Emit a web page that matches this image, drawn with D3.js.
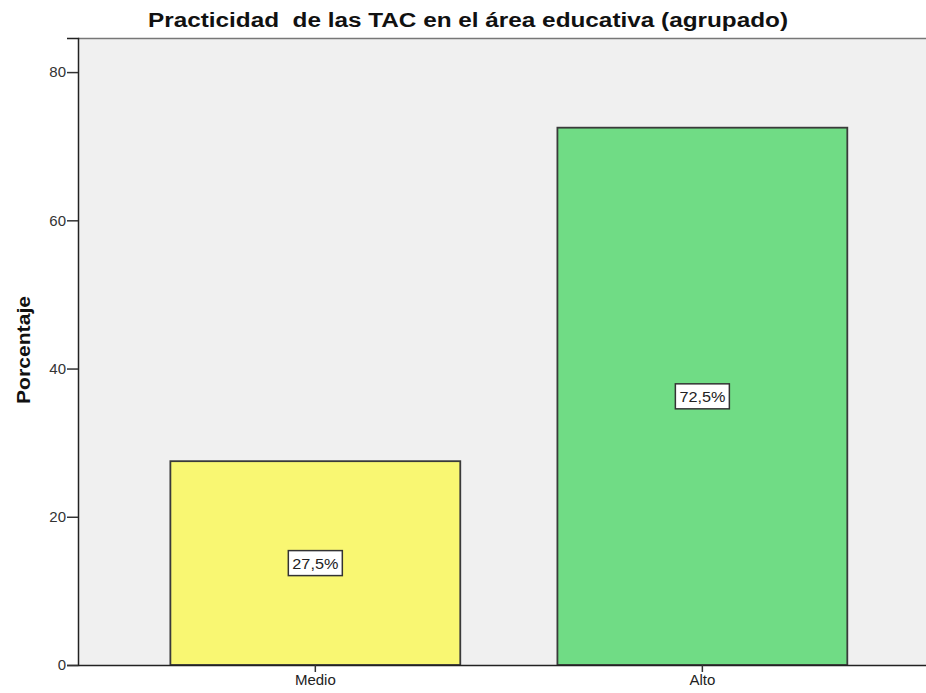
<!DOCTYPE html>
<html>
<head>
<meta charset="utf-8">
<script src="https://cdn.jsdelivr.net/npm/d3@7/dist/d3.min.js"></script>
<style>
  body { margin: 0; background: #fff; }
  text { font-family: "Liberation Sans", Arial, sans-serif; }
</style>
</head>
<body>
<div id="chart"></div>
<script>
var categories = ["Medio", "Alto"];
var values = [27.5, 72.5];
var colors = ["#f9f772", "#70dc85"];
var yTicks = [0, 20, 40, 60, 80];

var width = 926;
var height = 693;
var margin = {top: 38, right: 0, bottom: 28, left: 78};

var svg = d3.select("#chart")
    .append("svg")
    .attr("width", width)
    .attr("height", height);

var y = d3.scaleLinear()
    .domain([0, 84.6])
    .range([height - margin.bottom, margin.top]);

var x = d3.scaleBand()
    .domain(categories)
    .range([margin.left, width - margin.right])
    .paddingInner(0.251)
    .paddingOuter(0.221)
    .align(0.54);

// plot background
svg.append("rect")
    .attr("x", margin.left)
    .attr("y", margin.top)
    .attr("width", width - margin.left - margin.right)
    .attr("height", height - margin.top - margin.bottom)
    .attr("fill", "#f0f0f0");

svg.append("line")
    .attr("x1", margin.left).attr("x2", width)
    .attr("y1", margin.top + 0.5).attr("y2", margin.top + 0.5)
    .attr("stroke", "#777").attr("stroke-width", 1.5);

// bars
svg.append("g")
    .selectAll("rect")
    .data(values)
    .enter().append("rect")
    .attr("x", function (d, i) { return x(categories[i]); })
    .attr("y", function (d) { return y(d); })
    .attr("width", x.bandwidth())
    .attr("height", function (d) { return y(0) - y(d); })
    .attr("fill", function (d, i) { return colors[i]; })
    .attr("stroke", "#3a3a3a")
    .attr("stroke-width", 1.8);

// value labels
var labels = svg.append("g")
    .selectAll("g")
    .data(values)
    .enter().append("g")
    .attr("transform", function (d, i) {
        return "translate(" + (x(categories[i]) + x.bandwidth() / 2) + "," + y(d / 2) + ")";
    });

labels.append("rect")
    .attr("x", -27).attr("y", -12.5)
    .attr("width", 54).attr("height", 25)
    .attr("fill", "#fff")
    .attr("stroke", "#333")
    .attr("stroke-width", 1.5);

labels.append("text")
    .attr("text-anchor", "middle")
    .attr("dy", "0.36em")
    .style("font-size", "15px")
    .attr("textLength", 46)
    .attr("lengthAdjust", "spacingAndGlyphs")
    .attr("fill", "#222")
    .text(function (d) { return String(d).replace(".", ",") + "%"; });

// axes
var yAxis = d3.axisLeft(y).tickValues(yTicks).tickSize(11).tickPadding(1);
var gy = svg.append("g")
    .attr("transform", "translate(" + margin.left + ",0)")
    .call(yAxis);
gy.select(".domain").attr("stroke", "#222").attr("stroke-width", 1.5);
gy.selectAll(".tick line").attr("stroke", "#333").attr("stroke-width", 1.5);
gy.selectAll(".tick text").style("font-size", "15px").attr("fill", "#333");

var xAxis = d3.axisBottom(x).tickSize(7).tickSizeOuter(0).tickPadding(2);
var gx = svg.append("g")
    .attr("transform", "translate(0," + (height - margin.bottom) + ")")
    .call(xAxis);
gx.select(".domain").attr("stroke", "#222").attr("stroke-width", 1.5);
gx.selectAll(".tick line").attr("stroke", "#333").attr("stroke-width", 1.5);
gx.selectAll(".tick text").style("font-size", "15px").attr("fill", "#222");

// title + y label
svg.append("text")
    .attr("x", 468).attr("y", 27)
    .attr("text-anchor", "middle")
    .style("font-size", "20px")
    .style("font-weight", "bold")
    .style("white-space", "pre")
    .attr("textLength", 640)
    .attr("lengthAdjust", "spacingAndGlyphs")
    .attr("fill", "#111")
    .text("Practicidad  de las TAC en el área educativa (agrupado)");

svg.append("text")
    .attr("transform", "translate(30,350) rotate(-90)")
    .attr("text-anchor", "middle")
    .style("font-size", "18px")
    .style("font-weight", "bold")
    .attr("textLength", 108)
    .attr("lengthAdjust", "spacingAndGlyphs")
    .attr("fill", "#111")
    .text("Porcentaje");
</script>
</body>
</html>
